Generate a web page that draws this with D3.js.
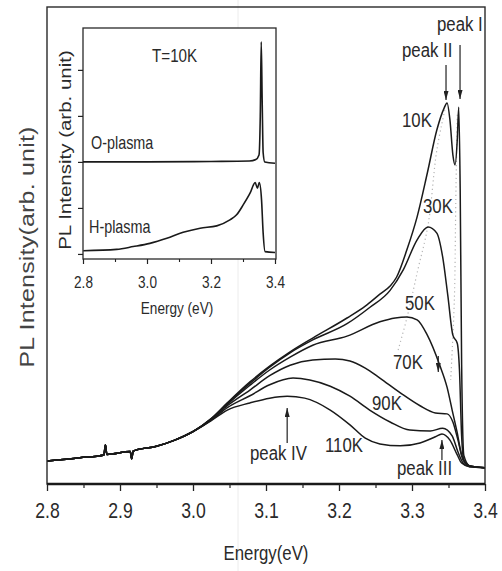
<!DOCTYPE html>
<html>
<head>
<meta charset="utf-8">
<script src="https://cdn.jsdelivr.net/npm/d3@7"></script>
<style>
  body { margin: 0; background: #fff; }
  svg { display: block; }
  text { font-family: "Liberation Sans", Arial, sans-serif; fill: #2a2a2a; }
</style>
</head>
<body>
<svg id="chart" width="502" height="571"></svg>
<script>
// =========================================================================
// Data (energy in eV, PL intensity in arb. units)
// =========================================================================

// low-energy part shared by every temperature (curves overlap here)
const sharedLow = [[2.800, 4.8], [2.845, 5.5], [2.878, 6.1], [2.880, 8.2], [2.882, 6.2],
    [2.914, 6.8], [2.916, 5.3], [2.918, 6.9], [2.950, 7.9], [2.975, 9.2], [3.000, 11.0]];

const t10K = [[3.025, 13.7], [3.047, 17.0], [3.078, 21.4], [3.105, 24.7], [3.133, 27.7], [3.164, 30.6], [3.211, 34.8],
    [3.236, 37.3], [3.256, 39.8], [3.270, 41.5], [3.279, 43.4], [3.293, 49.1], [3.307, 56.0], [3.321, 65.2],
    [3.334, 74.2], [3.344, 78.8], [3.348, 79.9], [3.352, 76.3], [3.356, 69.0], [3.359, 66.9], [3.362, 72.1],
    [3.364, 79.0], [3.366, 62.0], [3.368, 25.0], [3.371, 6.0], [3.379, 3.8], [3.400, 3.4]];

const t30K = [[3.025, 13.7], [3.047, 16.9], [3.078, 21.1], [3.105, 24.5], [3.133, 27.5], [3.164, 30.2], [3.211, 33.6],
    [3.242, 37.0], [3.270, 40.6], [3.288, 44.9], [3.307, 51.2], [3.322, 53.9], [3.334, 52.6], [3.342, 47.6],
    [3.349, 39.6], [3.356, 31.2], [3.362, 29.5], [3.365, 24.0], [3.368, 10.0], [3.371, 5.0], [3.379, 3.8],
    [3.400, 3.4]];

const t50K = [[3.025, 13.6], [3.047, 16.7], [3.078, 20.7], [3.105, 23.9], [3.133, 26.6], [3.164, 29.1], [3.211, 31.0],
    [3.256, 34.0], [3.277, 34.8], [3.293, 35.0], [3.307, 34.4], [3.321, 31.2], [3.338, 24.9], [3.348, 20.3],
    [3.355, 15.5], [3.362, 10.7], [3.368, 6.1], [3.379, 3.8], [3.400, 3.4]];

const t70K = [[3.025, 13.5], [3.047, 16.4], [3.078, 19.7], [3.105, 22.7], [3.133, 24.9], [3.164, 26.0], [3.195, 26.2],
    [3.215, 25.8], [3.236, 24.3], [3.256, 22.2], [3.284, 19.1], [3.311, 16.4], [3.332, 14.9], [3.348, 14.7],
    [3.356, 13.0], [3.363, 9.2], [3.370, 5.0], [3.379, 3.8], [3.400, 3.4]];

const t90K = [[3.025, 13.4], [3.047, 16.0], [3.078, 18.5], [3.105, 20.8], [3.137, 22.2], [3.160, 21.8], [3.188, 20.5],
    [3.215, 18.4], [3.242, 15.5], [3.270, 13.0], [3.297, 11.3], [3.325, 11.1], [3.342, 11.7], [3.355, 10.1],
    [3.363, 6.7], [3.370, 4.4], [3.379, 3.6], [3.400, 3.4]];

const t110K = [[3.025, 13.3], [3.047, 15.5], [3.078, 17.0], [3.105, 18.0], [3.129, 18.4], [3.153, 18.0], [3.188, 15.5],
    [3.215, 12.4], [3.236, 9.6], [3.256, 8.4], [3.284, 8.0], [3.311, 8.6], [3.332, 9.9], [3.341, 10.5],
    [3.352, 9.2], [3.362, 6.1], [3.368, 4.4], [3.379, 3.6], [3.400, 3.4]];

// dotted guide lines tracing the peak positions
const guideA = [[3.345, 78.4], [3.334, 70.0], [3.322, 54.3], [3.308, 44.9], [3.293, 34.8], [3.281, 28.1]];
const guideB = [[3.362, 77.4], [3.360, 59.5], [3.358, 38.6], [3.353, 21.8]];

// inset, T = 10K (O-plasma offset by 2 units)
const oPlasma = [[2.800, 2.00], [3.000, 2.00], [3.200, 2.01], [3.320, 2.02], [3.340, 2.05], [3.350, 2.15],
    [3.354, 3.00], [3.357, 4.61], [3.360, 3.30], [3.363, 2.20], [3.368, 2.00], [3.400, 1.97]];
const hPlasma = [[2.801, 0.07], [2.905, 0.10], [2.957, 0.16], [3.009, 0.23], [3.062, 0.34], [3.113, 0.47],
    [3.166, 0.56], [3.218, 0.61], [3.259, 0.74], [3.280, 0.85], [3.301, 1.07], [3.322, 1.32], [3.338, 1.55],
    [3.345, 1.43], [3.351, 1.55], [3.358, 1.17], [3.363, 0.45], [3.369, 0.05], [3.400, 0.03]];

const mainTicks = [2.8, 2.9, 3.0, 3.1, 3.2, 3.3, 3.4];
const mainMinor = [2.85, 2.95, 3.05, 3.15, 3.25, 3.35];
const insetTicks = [2.8, 3.0, 3.2, 3.4];
const insetMinor = [2.9, 3.1, 3.3];
const insetYTicks = [0, 1, 2, 3, 4];

const series = [
    { name: '10K', pts: t10K }, { name: '30K', pts: t30K }, { name: '50K', pts: t50K },
    { name: '70K', pts: t70K }, { name: '90K', pts: t90K }, { name: '110K', pts: t110K }
];

// =========================================================================
// Drawing
// =========================================================================

const svg = d3.select('#chart');
const SX = 0.8; // the scanned figure is horizontally compressed

function label(g, txt, x0, y0, size, anchor = 'start') {
    return g.append('text')
        .attr('transform', `translate(${x0},${y0}) scale(${SX},1)`)
        .attr('text-anchor', anchor)
        .style('font-size', size + 'px')
        .text(txt);
}

function vlabel(g, txt, x0, y0, size, spacing = 0) {
    return g.append('text')
        .attr('transform', `translate(${x0},${y0}) scale(${SX},1) rotate(-90)`)
        .attr('text-anchor', 'middle')
        .style('font-size', size + 'px')
        .style('letter-spacing', spacing + 'px')
        .text(txt);
}

svg.append('defs').append('marker')
    .attr('id', 'ah').attr('viewBox', '0 0 9 5')
    .attr('refX', 9).attr('refY', 2.5)
    .attr('markerWidth', 9).attr('markerHeight', 5)
    .attr('markerUnits', 'userSpaceOnUse').attr('orient', 'auto')
    .append('path').attr('d', 'M0,0 L9,2.5 L0,5 Z').attr('fill', '#222');

// faint scanner streak
svg.append('line').attr('x1', 238).attr('x2', 238).attr('y1', 0).attr('y2', 571)
    .attr('stroke', '#ececec').attr('stroke-width', 1);

// ---- main plot ----
const x = d3.scaleLinear().domain([2.8, 3.4]).range([47, 485]);
const y = d3.scaleLinear().domain([0, 100]).range([484, 7]);

const line = d3.line().x(d => x(d[0])).y(d => y(d[1])).curve(d3.curveMonotoneX);

const plot = svg.append('g');

plot.selectAll('.guide').data([guideA, guideB]).join('path')
    .attr('d', d3.line().x(d => x(d[0])).y(d => y(d[1])).curve(d3.curveCatmullRom))
    .attr('fill', 'none').attr('stroke', '#b5b5b5')
    .attr('stroke-width', 1.2).attr('stroke-dasharray', '1.2,3');

plot.selectAll('.pl').data(series).join('path')
    .attr('class', 'pl')
    .attr('d', s => line(sharedLow.concat(s.pts)))
    .attr('fill', 'none').attr('stroke', '#1a1a1a').attr('stroke-width', 1.5);

// frame
plot.append('rect').attr('x', 47).attr('y', 7).attr('width', 438).attr('height', 477)
    .attr('fill', 'none').attr('stroke', '#2a2a2a').attr('stroke-width', 1.4);
plot.append('line').attr('x1', 47).attr('x2', 485).attr('y1', 484).attr('y2', 484)
    .attr('stroke', '#1a1a1a').attr('stroke-width', 2.4);

const xAxis = plot.append('g').attr('transform', 'translate(0,484)')
    .call(d3.axisBottom(x).tickValues(mainTicks).tickFormat(d3.format('.1f')).tickSize(7).tickSizeOuter(0));
xAxis.select('.domain').remove();
xAxis.selectAll('line').attr('stroke', '#222').attr('stroke-width', 1.3);
xAxis.selectAll('text').attr('y', 34).attr('dy', null)
    .attr('transform', `scale(${SX},1)`)
    .style('font-size', '22px').attr('fill', null);
xAxis.attr('font-family', null).attr('font-size', null);

const xMinor = plot.append('g').attr('transform', 'translate(0,484)')
    .call(d3.axisBottom(x).tickValues(mainMinor).tickFormat('').tickSize(4).tickSizeOuter(0));
xMinor.select('.domain').remove();
xMinor.selectAll('line').attr('stroke', '#222').attr('stroke-width', 1.2);

label(svg, 'Energy(eV)', 266, 560, 21, 'middle');
vlabel(svg, 'PL Intensity(arb. unit)', 34, 247, 25, 0.2).style('fill', '#444');

// annotations
const arrows = [
    { e: 3.3466, y1: 65, y2: 100 },  // peak II
    { e: 3.3658, y1: 45, y2: 99 },   // peak I
    { e: 3.129, y1: 443, y2: 408 },  // peak IV
    { e: 3.341, y1: 460, y2: 440 },  // peak III
    { e: 3.336, y1: 356, y2: 372 }   // shoulder on 50K
];
plot.selectAll('.arrow').data(arrows).join('line')
    .attr('x1', d => x(d.e)).attr('x2', d => x(d.e))
    .attr('y1', d => d.y1).attr('y2', d => d.y2)
    .attr('stroke', '#222').attr('stroke-width', 1.2).attr('marker-end', 'url(#ah)');

label(svg, 'peak I', 437, 31, 21);
label(svg, 'peak II', 402, 57, 21);
label(svg, '10K', 402, 127, 21);
label(svg, '30K', 423, 213, 21);
label(svg, '50K', 405, 310, 21);
label(svg, '70K', 393, 369, 21);
label(svg, '90K', 372, 410, 21);
label(svg, '110K', 325, 452, 21);
label(svg, 'peak IV', 250, 460, 21);
label(svg, 'peak III', 397, 475, 21);

// ---- inset ----
const xi = d3.scaleLinear().domain([2.8, 3.4]).range([83, 275]);
const yi = d3.scaleLinear().domain([-0.11, 4.91]).range([259, 28]);
const lineI = d3.line().x(d => xi(d[0])).y(d => yi(d[1])).curve(d3.curveMonotoneX);

const inset = svg.append('g');
inset.append('rect').attr('x', 83).attr('y', 28).attr('width', 193).attr('height', 231)
    .attr('fill', '#fff').attr('stroke', '#2a2a2a').attr('stroke-width', 1.3);

inset.selectAll('.ins').data([oPlasma, hPlasma]).join('path')
    .attr('d', lineI)
    .attr('fill', 'none').attr('stroke', '#1a1a1a').attr('stroke-width', 1.6);

const yiAxis = inset.append('g').attr('transform', 'translate(83,0)')
    .call(d3.axisLeft(yi).tickValues(insetYTicks).tickFormat('').tickSize(5).tickSizeOuter(0));
yiAxis.select('.domain').remove();
yiAxis.selectAll('line').attr('stroke', '#222').attr('stroke-width', 1.2);

const xiAxis = inset.append('g').attr('transform', 'translate(0,259)')
    .call(d3.axisBottom(xi).tickValues(insetTicks).tickFormat(d3.format('.1f')).tickSize(5).tickSizeOuter(0));
xiAxis.select('.domain').remove();
xiAxis.selectAll('line').attr('stroke', '#222').attr('stroke-width', 1.2);
xiAxis.selectAll('text').attr('y', 29).attr('dy', null)
    .attr('transform', `scale(${SX},1)`)
    .style('font-size', '17px').attr('fill', null);
xiAxis.attr('font-family', null).attr('font-size', null);

const xiMinor = inset.append('g').attr('transform', 'translate(0,259)')
    .call(d3.axisBottom(xi).tickValues(insetMinor).tickFormat('').tickSize(3).tickSizeOuter(0));
xiMinor.select('.domain').remove();
xiMinor.selectAll('line').attr('stroke', '#222').attr('stroke-width', 1.1);

label(inset, 'T=10K', 152, 62, 19);
label(inset, 'O-plasma', 91, 149, 18);
label(inset, 'H-plasma', 89, 233, 18);
label(inset, 'Energy (eV)', 177, 314, 17, 'middle');
vlabel(inset, 'PL Intensity (arb. unit)', 71, 150, 20.5);
</script>
</body>
</html>
